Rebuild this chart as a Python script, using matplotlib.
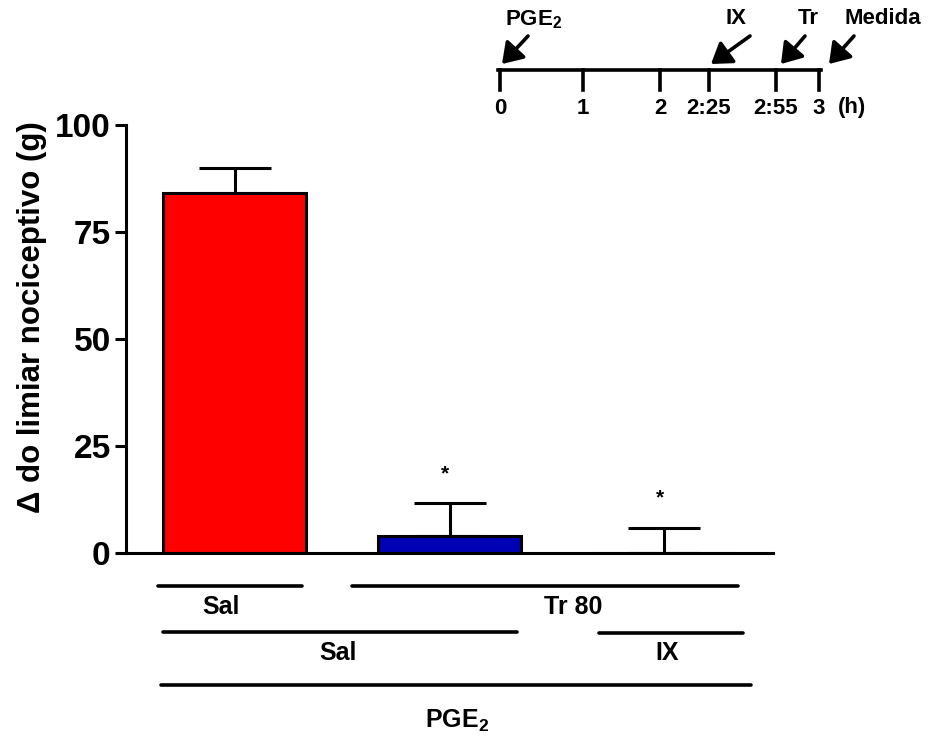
import matplotlib
matplotlib.use("Agg")
import matplotlib.pyplot as plt
from matplotlib.lines import Line2D
from matplotlib.patches import FancyArrowPatch

plt.rcParams['font.family'] = ['Liberation Sans', 'DejaVu Sans']
plt.rcParams['font.weight'] = 'bold'
plt.rcParams['axes.labelweight'] = 'bold'
plt.rcParams['mathtext.fontset'] = 'custom'
plt.rcParams['mathtext.rm'] = 'Liberation Sans:bold'
plt.rcParams['mathtext.default'] = 'rm'

# Data
groups = ["Sal", "Tr 80", "Tr 80 + IX"]
means = [84.0, 4.0, 0.0]
sem = [6.0, 7.6, 5.8]
bar_colors = ["#ff0000", "#0000b4", "#ffffff"]
signif = ["", "*", "*"]
yticks = [0, 25, 50, 75, 100]

# timeline schematic (hours, labels)
time_labels = ["0", "1", "2", "2:25", "2:55", "3"]
events = ["PGE$_2$", "IX", "Tr", "Medida"]

W, H = 929, 742
fig = plt.figure(figsize=(W / 100, H / 100), dpi=100)


def fx(px):
    return px / W


def fy(py):
    return 1 - py / H


ax = fig.add_axes([fx(126), fy(553), fx(773) - fx(126), fy(125) - fy(553)])
x = list(range(len(means)))
ax.bar(x, means, width=0.665, color=bar_colors, edgecolor="black", linewidth=2.2, zorder=2)
ax.errorbar(x, means, yerr=[[0] * len(sem), sem], fmt="none", ecolor="black",
            elinewidth=2.2, capsize=26, capthick=2.2, zorder=1)
for xi, m, s, t in zip(x, means, sem, signif):
    if t:
        ax.text(xi - 0.02, m + s + 7, t, ha="center", va="center", fontsize=15)

ax.set_xlim(-0.505, 2.505)
ax.set_ylim(0, 100)
ax.set_yticks(yticks)
ax.set_xticks([])
ax.tick_params(axis="y", labelsize=24, width=2.2, length=8, pad=3)
for sp in ["top", "right"]:
    ax.spines[sp].set_visible(False)
for sp in ["left", "bottom"]:
    ax.spines[sp].set_linewidth(2.2)
ax.set_ylabel("\u0394 do limiar nociceptivo (g)", fontsize=22.5)
ax.yaxis.set_label_coords((47 - 126) / (773 - 126), 0.55)

# group lines under the bars
def hline(x0, x1, y):
    fig.add_artist(Line2D([fx(x0), fx(x1)], [fy(y), fy(y)], color="black", lw=2.6,
                          solid_capstyle="round"))

hline(158, 302, 586)
hline(352, 738, 586)
hline(163, 517, 632)
hline(599, 743, 633)
hline(161, 751, 685)
tkw = dict(ha="center", va="center", fontsize=18)
fig.text(fx(221), fy(607), "Sal", **tkw)
fig.text(fx(573), fy(607), "Tr 80", **tkw)
fig.text(fx(338), fy(653), "Sal", **tkw)
fig.text(fx(667), fy(653), "IX", **tkw)
fig.text(fx(457), fy(721), "PGE$_2$", **tkw)

# timeline schematic
tx = [500, 583, 660, 709, 776, 819]
fig.add_artist(Line2D([fx(498), fx(821)], [fy(70), fy(70)], color="black", lw=2.6))
for px, lab in zip(tx, time_labels):
    fig.add_artist(Line2D([fx(px), fx(px)], [fy(70), fy(90)], color="black", lw=2.6))
    fig.text(fx(px), fy(108), lab, ha="center", va="center", fontsize=16)
fig.text(fx(852), fy(108), "(h)", ha="center", va="center", fontsize=16)

ev_text = [(505, 20, "left"), (736, 19, "center"), (808, 19, "center"), (883, 19, "center")]
ev_arrow = [((528, 36), (502, 64)), ((750, 36), (711, 64)), ((805, 36), (781, 64)),
            ((854, 36), (829, 64))]
for lab, (px, py, ha), (p0, p1) in zip(events, ev_text, ev_arrow):
    fig.text(fx(px), fy(py), lab, ha=ha, va="center", fontsize=16)
    fig.add_artist(FancyArrowPatch(
        (fx(p0[0]), fy(p0[1])), (fx(p1[0]), fy(p1[1])), transform=fig.transFigure,
        arrowstyle="-|>,head_length=0.6,head_width=0.4", mutation_scale=20,
        color="black", lw=2.6, shrinkA=0, shrinkB=0))

fig.savefig("out.png", dpi=100)
